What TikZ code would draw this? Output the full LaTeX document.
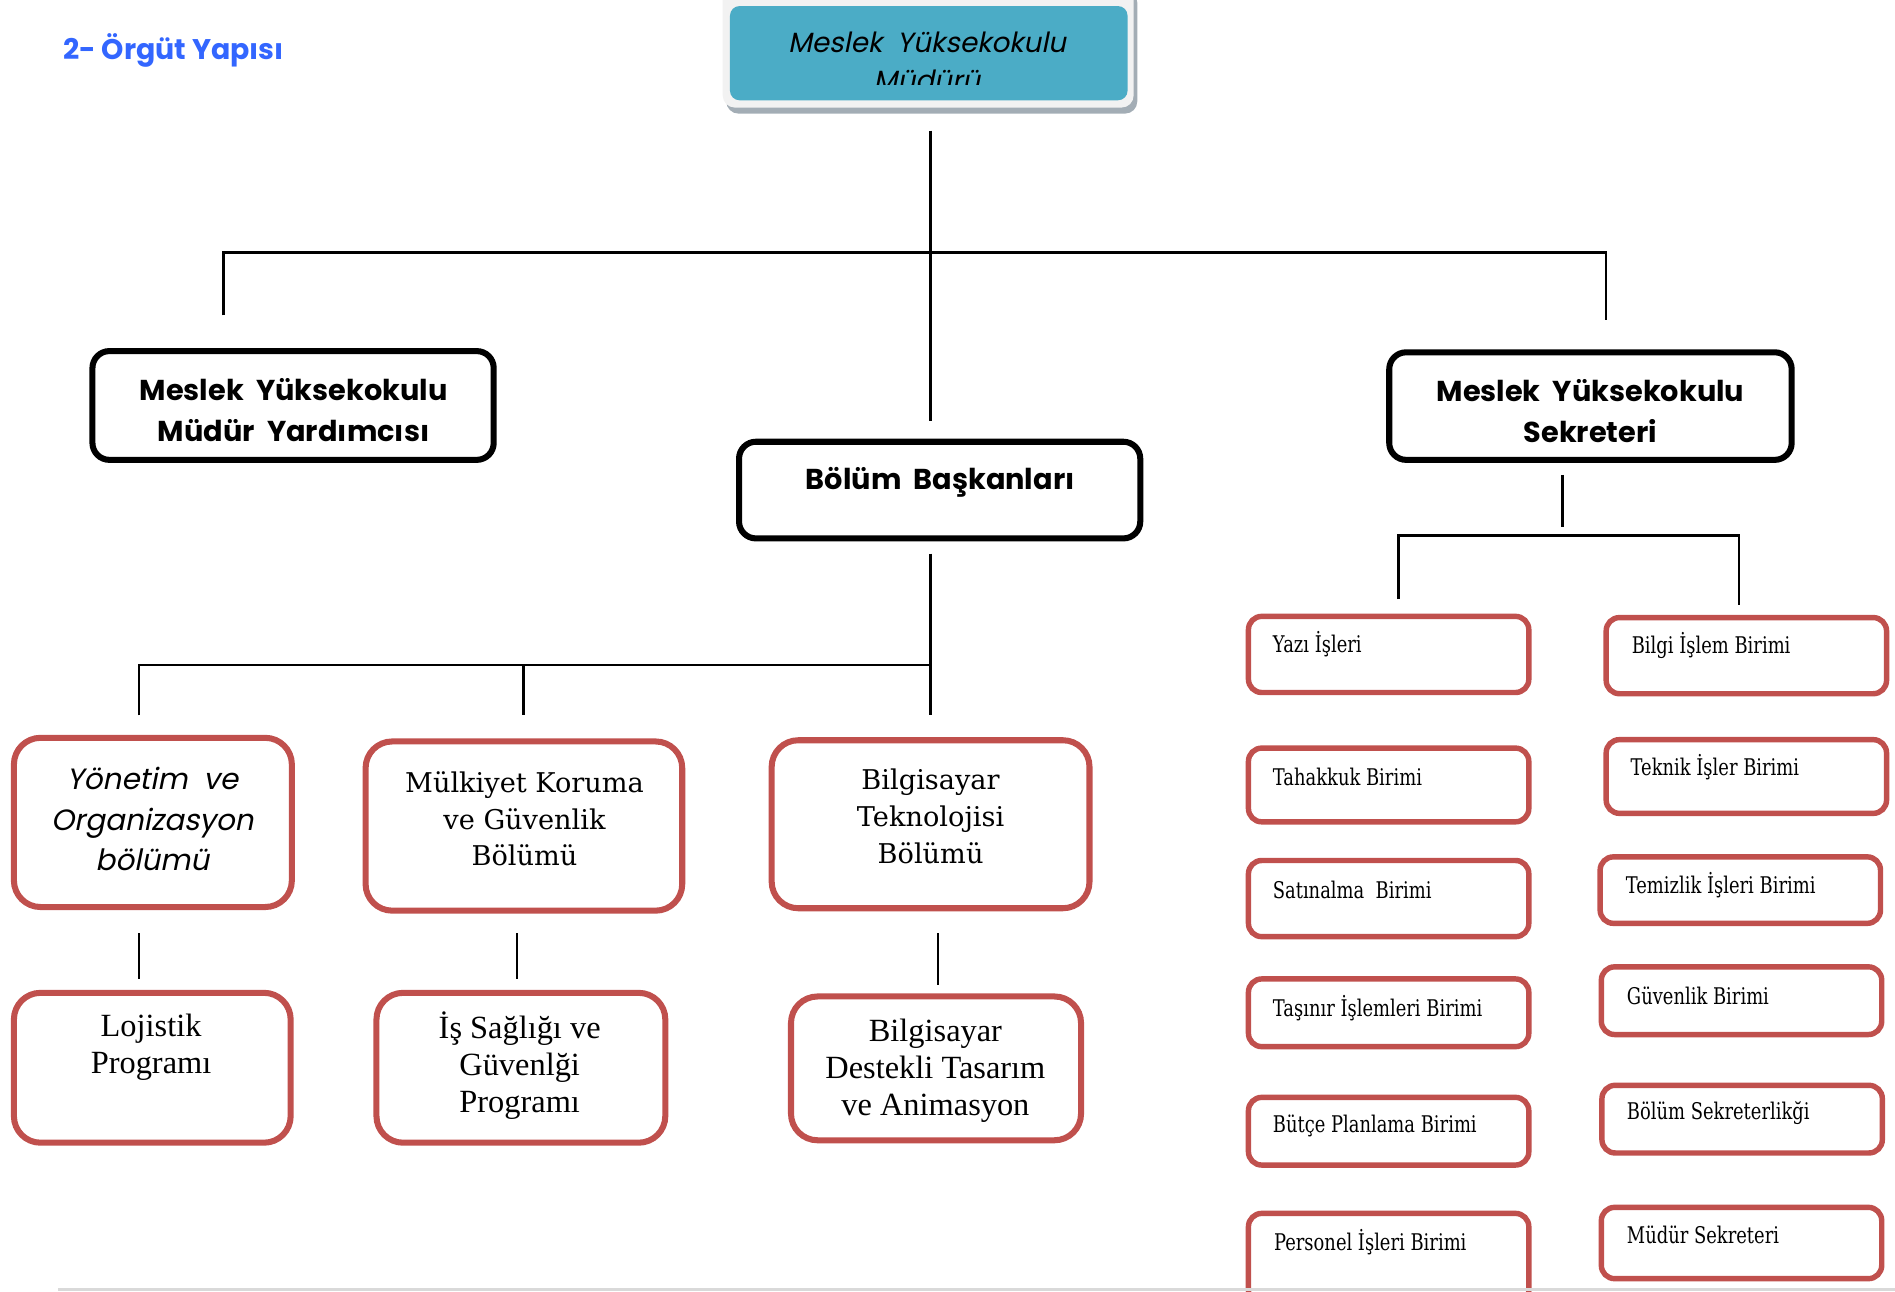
\documentclass[tikz,border=0pt]{standalone}
\usepackage{fontspec}
\setmainfont{DejaVu Serif}
\newfontfamily\goth{Poppins}
\newfontfamily\gothit{Poppins}[FakeSlant=0.2]
\newfontfamily\timesf{Liberation Serif}
\newfontfamily\camb{DejaVu Serif}
\newfontfamily\cambn{DejaVu Serif}[FakeStretch=0.78]
\definecolor{boxred}{HTML}{C0504D}
\definecolor{teal}{HTML}{4BACC6}
\definecolor{titleblue}{HTML}{3366FF}
\definecolor{framegray}{HTML}{F2F2F2}
\definecolor{shadowgray}{HTML}{A3ADB5}
\begin{document}
\begin{tikzpicture}[x=1pt,y=-1pt,
  conn/.style={line width=2pt, draw=black},
  blackbox/.style={draw=black, line width=5pt, rounded corners=14pt, inner sep=0pt, minimum width=332pt},
  redbox/.style={draw=boxred, line width=5pt, rounded corners=22pt, inner sep=0pt},
  unitbox/.style={draw=boxred, line width=4.5pt, rounded corners=11pt, inner sep=0pt, minimum width=232pt},
  boldtext/.style={font=\goth\bfseries\fontsize{23.8}{34}\selectfont, align=center, inner sep=0pt},
  ittext/.style={font=\gothit\fontsize{24.3}{33.5}\selectfont, align=center, inner sep=0pt},
  cambtext/.style={font=\camb\fontsize{22.5}{30.5}\selectfont, align=center, inner sep=0pt},
  timestext/.style={font=\timesf\fontsize{26.8}{30.5}\selectfont, align=center, inner sep=0pt},
  unittext/.style={font=\cambn\fontsize{19}{22}\selectfont, anchor=west, inner sep=0pt}
]
\useasboundingbox (0,0) rectangle (1568,1069);

% title
\node[font=\goth\bfseries\fontsize{23.5}{26}\selectfont, text=titleblue, anchor=west, inner sep=0pt] (title) at (52,42) {2- Örgüt Yapısı};

% top box
\fill[shadowgray, rounded corners=10pt] (601,-8) rectangle (941,94);
\fill[framegray, rounded corners=10pt] (598,-10) rectangle (938,89);
\node[fill=teal, rounded corners=8pt, minimum width=329pt, minimum height=78pt, inner sep=0pt, outer sep=0pt] (mud) at (768.5,44) {};
\begin{scope}
\clip (604,5) rectangle (933,70);
\node[font=\gothit\fontsize{23}{32}\selectfont, align=center, inner sep=0pt, anchor=north] (mudtext) at (767,26) {Meslek\ \ Yüksekokulu\\Müdürü};
\end{scope}

% second level
\node[blackbox, minimum height=90pt] (mya) at (242.5,335.5) {};
\node[boldtext] (myatext) at (243,339) {Meslek\ \ Yüksekokulu\\Müdür\ \ Yardımcısı};
\node[blackbox, minimum height=80pt] (bb) at (777.5,405.5) {};
\node[boldtext] (bbtext) at (778,399) {Bölüm\ \ Başkanları};
\node[blackbox, minimum width=333pt, minimum height=89pt] (sek) at (1316,336) {};
\node[boldtext] (sektext) at (1316,340) {Meslek\ \ Yüksekokulu\\Sekreteri};

% departments
\node[redbox, minimum width=230pt, minimum height=140pt] (yon) at (126.5,680.5) {};
\node[ittext] (yontext) at (126,678) {Yönetim\ \ ve\\Organizasyon\\bölümü};
\node[redbox, minimum width=262pt, minimum height=140pt] (mul) at (433.5,683.5) {};
\node[cambtext] (multext) at (434,677.5) {Mülkiyet Koruma\\ve Güvenlik\\Bölümü};
\node[redbox, minimum width=263pt, minimum height=139pt] (bil) at (770,682) {};
\node[cambtext] (biltext) at (770,675.5) {Bilgisayar\\Teknolojisi\\Bölümü};

% programs
\node[redbox, minimum width=229pt, minimum height=124pt] (loj) at (126,883.5) {};
\node[timestext] (lojtext) at (125,866.5) {Lojistik\\Programı};
\node[redbox, minimum width=239pt, minimum height=124pt] (isg) at (431,883.5) {};
\node[timestext] (isgtext) at (430,881.5) {İş Sağlığı ve\\Güvenlği\\Programı};
\node[redbox, minimum width=240pt, minimum height=119pt] (bdt) at (774.5,884) {};
\node[timestext] (bdttext) at (774,886) {Bilgisayar\\Destekli Tasarım\\ve Animasyon};

% units left column
\node[unitbox, minimum height=63pt] (yazi) at (1149,541.5) {};
\node[unittext] (yazitext) at (1053,533) {Yazı İşleri};
\node[unitbox, minimum height=61pt] (tah) at (1149,649.5) {};
\node[unittext] (tahtext) at (1053,643) {Tahakkuk Birimi};
\node[unitbox, minimum height=63pt] (sat) at (1149,743.5) {};
\node[unittext] (sattext) at (1053,736) {Satınalma\ \ Birimi};
\node[unitbox, minimum height=56pt] (tas) at (1149,838) {};
\node[unittext] (tastext) at (1053,834) {Taşınır İşlemleri Birimi};
\node[unitbox, minimum height=56pt] (but) at (1149,936) {};
\node[unittext] (buttext) at (1053,932) {Bütçe Planlama Birimi};
\node[unitbox, minimum height=75pt] (per) at (1149,1041.5) {};
\node[unittext] (pertext) at (1054,1028) {Personel İşleri Birimi};

% units right column
\node[unitbox, minimum height=63pt] (bilgi) at (1445,542.5) {};
\node[unittext] (bilgitext) at (1350,534) {Bilgi İşlem Birimi};
\node[unitbox, minimum height=61pt] (tek) at (1445,642.5) {};
\node[unittext] (tektext) at (1349,635) {Teknik İşler Birimi};
\node[unitbox, minimum height=55pt] (tem) at (1440,736.5) {};
\node[unittext] (temtext) at (1345,732) {Temizlik İşleri Birimi};
\node[unitbox, minimum height=56pt] (guv) at (1441,828) {};
\node[unittext] (guvtext) at (1346,824) {Güvenlik Birimi};
\node[unitbox, minimum height=56pt] (bolsek) at (1441.5,926) {};
\node[unittext] (bolsektext) at (1346,921) {Bölüm Sekreterlikği};
\node[unitbox, minimum height=59pt] (mudsek) at (1441,1028.5) {};
\node[unittext] (mudsektext) at (1346,1022) {Müdür Sekreteri};

% connectors
\coordinate (hl) at (185,209);
\coordinate (hr) at (1329,209);
\coordinate (hc) at (770,209);
\coordinate (gl) at (115,550);
\coordinate (gm) at (433,550);
\coordinate (gr) at (770,550);
\coordinate (sl) at (1157,443);
\coordinate (sc) at (1293,443);
\coordinate (sr) at (1439,443);

\draw[conn, shorten <=25pt, shorten >=15pt] (mud.south -| hc) -- (hc |- bb.north);
\draw[conn, shorten <=27pt, shorten >=24pt] (hl |- mya.north) -- (hl) -- (hr) -- (hr |- sek.north);

\draw[conn, shorten <=10pt] (bb.south -| gr) -- (gr);
\draw[conn, shorten <=16pt, shorten >=18pt] (gl |- yon.north) -- (gl) -- (gr) -- (gr |- bil.north);
\draw[conn, shorten >=19pt] (gm) -- (gm |- mul.north);

\draw[conn, shorten <=19pt, shorten >=9pt] (yon.south -| gl) -- (gl |- loj.north);
\draw[conn, shorten <=16pt, shorten >=9pt] ([xshift=-5.5pt]mul.south) -- ([xshift=-5.5pt]mul.south |- isg.north);
\draw[conn, shorten <=18pt, shorten >=7pt] ([xshift=6pt]bil.south) -- ([xshift=6pt]bil.south |- bdt.north);

\draw[conn, shorten <=10pt, shorten >=7pt] (sek.south -| sc) -- (sc);
\draw[conn, shorten <=12pt, shorten >=8pt] (sl |- yazi.north) -- (sl) -- (sr) -- (sr |- bilgi.north);

% bottom rule
\draw[line width=2pt, draw=black!15] (48,1067) -- (1568,1067);
\end{tikzpicture}
\end{document}
